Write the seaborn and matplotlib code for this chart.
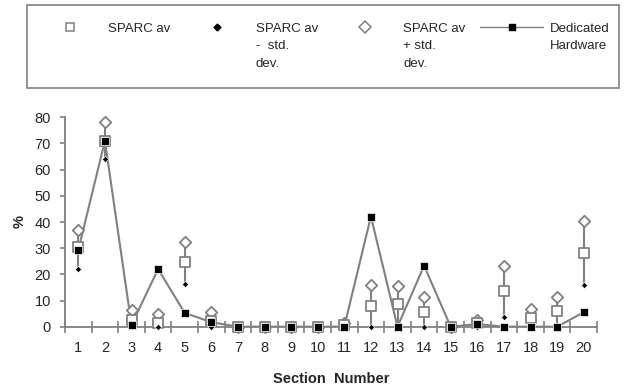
import numpy as np
import pandas as pd
import matplotlib
matplotlib.use("Agg")
import matplotlib.pyplot as plt
import seaborn as sns
from matplotlib.lines import Line2D
from matplotlib.patches import Rectangle

sections = list(range(1, 21))
sparc_av = [30.5, 71, 2.5, 1.5, 24.7, 2, 0, 0, 0, 0, 0.5, 8, 8.5, 5.5, 0, 1.5, 13.5, 3.5, 6, 28.3]
sparc_minus = [22, 64, 0, 0, 16.4, 0, 0, 0, 0, 0, 0, 0, 0, 0, 0, 0, 3.7, 0, 0, 15.9]
sparc_plus = [36.8, 78.1, 6.3, 4.7, 32.2, 5.6, 0, 0, 0, 0, 1.5, 15.9, 15.4, 11.3, 0, 2.5, 23.2, 6.7, 11.3, 40.3]
dedicated = [29.3, 71, 0.7, 22, 5.3, 1.7, 0, 0, 0, 0, 0, 42.1, 0, 23.3, 0, 1, 0, 0, 0, 5.5]
y_ticks = [0, 10, 20, 30, 40, 50, 60, 70, 80]

df = pd.DataFrame({"section": sections, "av": sparc_av, "minus": sparc_minus,
                   "plus": sparc_plus, "ded": dedicated})

sns.set_style("white")
plt.rcParams["font.family"] = ["Liberation Sans", "DejaVu Sans"]
GRAY = "#808080"
W, H = 624, 387

fig = plt.figure(figsize=(6.24, 3.87), dpi=100)
ax = fig.add_axes([65 / W, 1 - 326.7 / H, (597 - 65) / W, (326.7 - 117.3) / H])

# error bars (minus to plus)
ax.vlines(df["section"], df["minus"], df["plus"], color=GRAY, lw=1.5, zorder=2)

sns.lineplot(data=df, x="section", y="ded", ax=ax, color=GRAY, lw=1.5, zorder=3)
sns.scatterplot(data=df, x="section", y="plus", ax=ax, marker="D", s=34,
                facecolor="white", edgecolor=GRAY, linewidth=1.3, zorder=4, clip_on=False)
sns.scatterplot(data=df, x="section", y="av", ax=ax, marker="s", s=44,
                facecolor="white", edgecolor=GRAY, linewidth=1.3, zorder=4, clip_on=False)
sns.scatterplot(data=df, x="section", y="minus", ax=ax, marker="D", s=10,
                color="black", edgecolor="white", linewidth=0.4, zorder=5, clip_on=False)
sns.scatterplot(data=df, x="section", y="ded", ax=ax, marker="s", s=30,
                color="black", edgecolor="white", linewidth=0.5, zorder=6, clip_on=False)

ax.set_xlim(0.5, 20.5)
ax.set_ylim(0, 80)
ax.set_yticks(y_ticks)
ax.set_yticklabels([str(v) for v in y_ticks])
ax.set_xticks(np.arange(0.5, 21, 1))
ax.set_xticklabels([])
ax.set_xticks(sections, minor=True)
ax.set_xticklabels([str(s) for s in sections], minor=True)
ax.tick_params(axis="x", which="major", direction="inout", length=9, width=1.2,
               color=GRAY, bottom=True)
ax.tick_params(axis="x", which="minor", length=0, pad=10.5, labelsize=10.5, bottom=True)
ax.tick_params(axis="y", which="major", direction="out", length=3.5, width=1.2,
               color=GRAY, left=True, pad=6.5, labelsize=10.5)
for s in ["top", "right"]:
    ax.spines[s].set_visible(False)
for s in ["left", "bottom"]:
    ax.spines[s].set_color(GRAY)
    ax.spines[s].set_linewidth(1.3)

ax.set_xlabel("Section  Number", fontweight="bold", fontsize=10.5, labelpad=12)
ax.set_ylabel("%", fontweight="bold", fontsize=10.5, labelpad=6)

# legend
handles = [
    Line2D([], [], ls="none", marker="s", ms=6, mfc="white", mec=GRAY, mew=1.1),
    Line2D([], [], ls="none", marker="D", ms=3.5, mfc="black", mec="black"),
    Line2D([], [], ls="none", marker="D", ms=6, mfc="white", mec=GRAY, mew=1.1),
    Line2D([], [], ls="-", color=GRAY, lw=1.0, marker="s", ms=5, mfc="black", mec="black"),
]
labels = ["SPARC av", "SPARC av\n-  std.\ndev.", "SPARC av\n+ std.\ndev.", "Dedicated\nHardware"]
fs = 9.5
fs_px = fs * 100 / 72
leg = fig.legend(handles, labels, loc="upper left", ncol=4,
                 bbox_to_anchor=(38.5 / W, 1 - 22.5 / H),
                 borderaxespad=0, borderpad=0, fontsize=fs,
                 handlelength=63 / fs_px, handletextpad=7 / fs_px,
                 columnspacing=15 / fs_px, frameon=False)
for t in leg.get_texts():
    t.set_multialignment("left")
    t.set_linespacing(1.62)
leg._legend_handle_box.align = "top"
for col in leg._legend_handle_box.get_children():
    col.align = "left"
    for row in col.get_children():
        row.align = "top"
fig.patches.append(Rectangle((27 / W, 1 - 88 / H), (619 - 27) / W, (88 - 5) / H,
                             transform=fig.transFigure, fill=False,
                             edgecolor=GRAY, linewidth=1.2))

fig.savefig("out.png", dpi=100)
